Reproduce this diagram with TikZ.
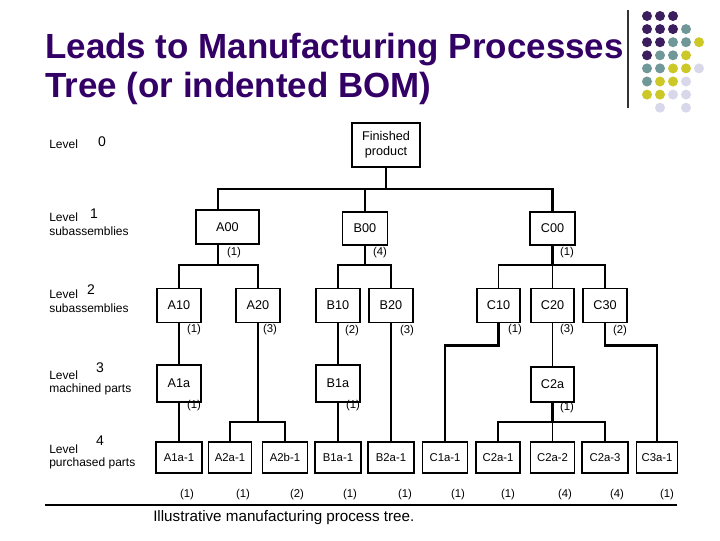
\documentclass[tikz,border=0pt]{standalone}
\usepackage{fontspec}
\setmainfont{Liberation Sans}
\usetikzlibrary{calc}
\definecolor{titlepurple}{RGB}{51,0,102}
\definecolor{dotpurple}{RGB}{60,30,95}
\definecolor{dotteal}{RGB}{112,152,152}
\definecolor{dotyellow}{RGB}{204,200,40}
\definecolor{dotlav}{RGB}{216,216,234}
\begin{document}
\begin{tikzpicture}[x=0.75pt,y=-0.75pt,
  box/.style={draw, line width=1.3pt, inner sep=0pt, align=center,
    font=\fontsize{9.5}{11}\selectfont, minimum width=32.5pt},
  lvone/.style={box, minimum height=24.75pt, minimum width=33.75pt},
  lvtwo/.style={box, minimum height=25.5pt},
  lvthree/.style={box, minimum height=27.5pt},
  lvfour/.style={box, minimum height=23.25pt, font=\fontsize{8.5}{10}\selectfont},
  heavy/.style={line width=1.9pt},
  light/.style={line width=1.1pt},
  qty/.style={font=\fontsize{8.5}{9}\selectfont, inner sep=0pt},
  lvl/.style={font=\fontsize{9}{10}\selectfont, inner sep=0pt, anchor=west},
  digit/.style={font=\fontsize{10.5}{10}\selectfont, inner sep=0pt},
  ttl/.style={font=\fontsize{26.2}{30}\selectfont\bfseries, text=titlepurple, inner sep=0pt, anchor=base west},
  dot/.style={circle, inner sep=0pt, minimum size=7.5pt}]
\useasboundingbox (0,0) rectangle (720,540);

% title
\node[ttl] (t1) at (45,58) {Leads to Manufacturing Processes};
\node[ttl] (t2) at (45,97) {Tree (or indented BOM)};

% decoration
\coordinate (vtop) at (628,10);
\coordinate (vbot) at (628,108);
\draw[line width=1.1pt, black!80] (vtop) -- (vbot);
\foreach \c/\r/\col in {0/0/dotpurple,1/0/dotpurple,2/0/dotpurple,
  0/1/dotpurple,1/1/dotpurple,2/1/dotpurple,3/1/dotteal,
  0/2/dotpurple,1/2/dotpurple,2/2/dotteal,3/2/dotteal,4/2/dotyellow,
  0/3/dotpurple,1/3/dotteal,2/3/dotteal,3/3/dotyellow,
  0/4/dotteal,1/4/dotteal,2/4/dotyellow,3/4/dotyellow,4/4/dotlav,
  0/5/dotteal,1/5/dotyellow,2/5/dotyellow,3/5/dotlav,
  0/6/dotyellow,1/6/dotyellow,2/6/dotlav,3/6/dotlav,
  1/7/dotlav,3/7/dotlav}
  \node[dot, fill=\col] (d\c\r) at (647+13*\c,16+13.1*\r) {};

% level labels
\node[lvl] (l0) at (49,144) {Level};
\node[digit] (l0d) at (102,142) {0};
\node[lvl] (l1) at (49,217) {Level};
\node[digit] (l1d) at (94,214) {1};
\node[lvl] (l1s) at (49,231) {subassemblies};
\node[lvl] (l2) at (49,294) {Level};
\node[digit] (l2d) at (91,290) {2};
\node[lvl] (l2s) at (49,308) {subassemblies};
\node[lvl] (l3) at (49,375) {Level};
\node[digit] (l3d) at (100,368) {3};
\node[lvl] (l3s) at (49,389) {machined parts};
\node[lvl] (l4) at (49,449) {Level};
\node[digit] (l4d) at (100,441) {4};
\node[lvl] (l4s) at (49,463) {purchased parts};

% level 0 and 1
\node[box, minimum width=51pt, minimum height=33pt] (fp) at (386,145) {Finished\\product};
\node[lvone, minimum width=47.25pt, minimum height=25.5pt] (a00) at (227.5,227) {A00};
\node[lvone] (b00) at (365,228.5) {B00};
\node[lvone] (c00) at (552.5,228.5) {C00};

% level 2
\node[lvtwo] (a10) at (179,305.5) {A10};
\node[lvtwo] (a20) at (258,305.5) {A20};
\node[lvtwo] (b10) at (338,305.5) {B10};
\node[lvtwo] (b20) at (391,305.5) {B20};
\node[lvtwo] (c10) at (498.5,305.5) {C10};
\node[lvtwo] (c20) at (552.5,305.5) {C20};
\node[lvtwo] (c30) at (605,305.5) {C30};

% level 3
\node[lvthree] (a1a) at (179,383.5) {A1a};
\node[lvthree] (b1a) at (338,383.5) {B1a};
\node[lvthree, minimum height=26.25pt] (c2a) at (552.5,384.5) {C2a};

% level 4
\node[lvfour, minimum width=34.5pt] (a1a1) at (179,457.5) {A1a-1};
\node[lvfour, minimum width=32.25pt] (a2a1) at (230,457.5) {A2a-1};
\node[lvfour, minimum width=33.75pt] (a2b1) at (285,457.5) {A2b-1};
\node[lvfour, minimum width=34.5pt] (b1a1) at (338,457.5) {B1a-1};
\node[lvfour, minimum width=34.5pt] (b2a1) at (391,457.5) {B2a-1};
\node[lvfour, minimum width=33.75pt] (c1a1) at (445,457.5) {C1a-1};
\node[lvfour, minimum width=33pt] (c2a1) at (498,457.5) {C2a-1};
\node[lvfour, minimum width=33pt] (c2a2) at (552.5,457.5) {C2a-2};
\node[lvfour, minimum width=34.5pt] (c2a3) at (605,457.5) {C2a-3};
\node[lvfour, minimum width=30.75pt] (c3a1) at (657,457.5) {C3a-1};

% junctions
\coordinate (j0) at (386,189);
\coordinate (ja) at (218,265);
\coordinate (jb) at (365,265);
\coordinate (jc) at (552.5,265);
\coordinate (jd) at (258,422);
\coordinate (je) at (552.5,422);

% connectors
\draw[heavy] (fp.south) -- (j0);
\draw[heavy] ($(a00.north)+(-9.5,0)$) |- (j0) -| (c00.north);
\draw[light] (b00.north) -- (b00.north |- j0);

\draw[heavy] ($(a00.south)+(-9.5,0)$) -- (ja);
\draw[heavy] (a10.north) |- (ja) -| (a20.north);
\draw[heavy] (b00.south) -- (jb);
\draw[light] (b10.north) |- (jb);
\draw[heavy] (jb) -| (b20.north);
\draw[heavy] (c00.south) -- (jc);
\draw[light] (c10.north) |- (jc);
\draw[heavy] (jc) -| (c30.north);
\draw[light] (c20.north) -- (jc);

\draw[light] (a10.south) -- (a1a.north);
\draw[light] (b10.south) -- (b1a.north);
\draw[light] (c20.south) -- (c2a.north);
\draw[heavy] (a20.south) -- (jd);
\draw[heavy] (a2a1.north) |- (jd) -| (a2b1.north);
\draw[light] (a1a.south) -- (a1a1.north);
\draw[light] (b1a.south) -- (b1a1.north);
\draw[heavy] (b20.south) -- (b2a1.north);
\draw[heavy] (c10.south) -- ++(0,22) -| (c1a1.north);
\draw[heavy] (c30.south) -- ++(0,22) -| (c3a1.north);
\draw[heavy] (c2a.south) -- (je);
\draw[light] (c2a1.north) |- (je);
\draw[heavy] (je) -| (c2a3.north);
\draw[light] (c2a2.north) -- (je);

% quantities
\node[qty] (q1) at (234,253) {(1)};
\node[qty] (q2) at (380,253) {(4)};
\node[qty] (q3) at (567,253) {(1)};
\node[qty] (q4) at (194,330) {(1)};
\node[qty] (q5) at (270,330) {(3)};
\node[qty] (q6) at (352,331) {(2)};
\node[qty] (q7) at (407,331) {(3)};
\node[qty] (q8) at (515,330) {(1)};
\node[qty] (q9) at (567,330) {(3)};
\node[qty] (q10) at (620,331) {(2)};
\node[qty] (q11) at (194,406) {(1)};
\node[qty] (q12) at (353,406) {(1)};
\node[qty] (q13) at (567,408) {(1)};
\node[qty] (q14) at (187,495) {(1)};
\node[qty] (q15) at (243,495) {(1)};
\node[qty] (q16) at (297,495) {(2)};
\node[qty] (q17) at (350,495) {(1)};
\node[qty] (q18) at (405,495) {(1)};
\node[qty] (q19) at (458,495) {(1)};
\node[qty] (q20) at (508,495) {(1)};
\node[qty] (q21) at (565,495) {(4)};
\node[qty] (q22) at (617,495) {(4)};
\node[qty] (q23) at (667,495) {(1)};

% rule and caption
\coordinate (rl) at (45,505);
\coordinate (rr) at (677,505);
\draw[line width=1.3pt] (rl) -- (rr);
\node[font=\fontsize{11.4}{13}\selectfont, inner sep=0pt, anchor=west] (cap) at (153,518) {Illustrative manufacturing process tree.};
\end{tikzpicture}
\end{document}
